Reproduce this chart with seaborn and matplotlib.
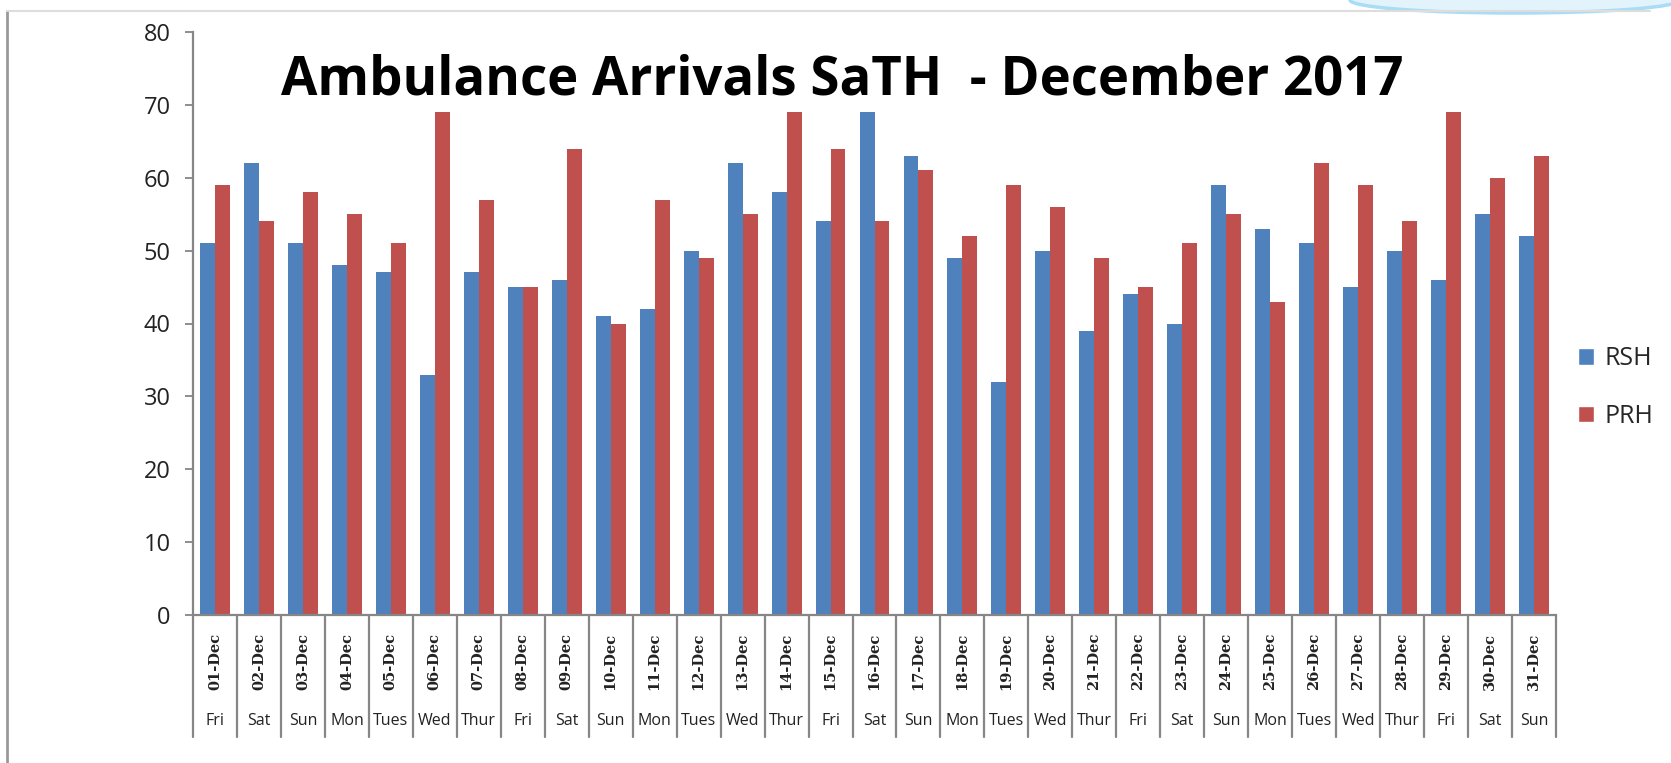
import seaborn as sns
import matplotlib.pyplot as plt
import matplotlib.transforms as mtransforms
from matplotlib.patches import Ellipse, Patch
from matplotlib.lines import Line2D
import pandas as pd

# --- Data ---
dates = [f"{d:02d}-Dec" for d in range(1, 32)]
days = ["Fri", "Sat", "Sun", "Mon", "Tues", "Wed", "Thur",
        "Fri", "Sat", "Sun", "Mon", "Tues", "Wed", "Thur",
        "Fri", "Sat", "Sun", "Mon", "Tues", "Wed", "Thur",
        "Fri", "Sat", "Sun", "Mon", "Tues", "Wed", "Thur",
        "Fri", "Sat", "Sun"]
rsh = [51, 62, 51, 48, 47, 33, 47, 45, 46, 41, 42, 50, 62, 58, 54, 69,
       63, 49, 32, 50, 39, 44, 40, 59, 53, 51, 45, 50, 46, 55, 52]
prh = [59, 54, 58, 55, 51, 69, 57, 45, 64, 40, 57, 49, 55, 69, 64, 54,
       61, 52, 59, 56, 49, 45, 51, 55, 43, 62, 59, 54, 69, 60, 63]
sites = ["RSH", "PRH"]
y_ticks = list(range(0, 81, 10))

# --- Style ---
BLUE = '#4F81BD'
RED = '#C0504D'
AXIS_GREY = '#868686'
sns.set_style("white")
plt.rcParams['font.family'] = ['Open Sans', 'DejaVu Sans']

df = pd.DataFrame({
    'date': dates * 2,
    'count': rsh + prh,
    'site': ['RSH'] * len(rsh) + ['PRH'] * len(prh),
})

fig = plt.figure(figsize=(16.71, 7.63), dpi=100)
ax = fig.add_axes([193 / 1671, 1 - 615 / 763, (1556 - 193) / 1671, (615 - 32) / 763])

sns.barplot(data=df, x='date', y='count', hue='site', hue_order=sites,
            palette=[BLUE, RED], width=0.68, saturation=1, gap=0,
            edgecolor='none', ax=ax, legend=False)

ax.set_xlim(-0.5, len(dates) - 0.5)
ax.set_ylim(0, 80)
ax.set_yticks(y_ticks)
ax.tick_params(axis='y', labelsize=17, length=6, width=1.3, color=AXIS_GREY,
               labelcolor='#222222', direction='out', pad=10, left=True)
ax.set_xlabel("")
ax.set_ylabel("")
for side in ['top', 'right']:
    ax.spines[side].set_visible(False)
for side in ['left', 'bottom']:
    ax.spines[side].set_color(AXIS_GREY)
    ax.spines[side].set_linewidth(1.6)

# Two-level category axis (date rotated + weekday), Excel style
ax.set_xticks(range(len(dates)))
ax.set_xticklabels([])
ax.tick_params(axis='x', length=0)
trans = mtransforms.blended_transform_factory(ax.transData, ax.transAxes)
for i, (d, wd) in enumerate(zip(dates, days)):
    ax.text(i, -0.079, d, rotation=90, ha='center', va='center', transform=trans,
            fontsize=10.5, fontweight='bold', family='DejaVu Serif', color='#222222')
    ax.text(i, -0.181, wd, ha='center', va='center', transform=trans,
            fontsize=11.5, color='#222222')
for i in range(len(dates) + 1):
    ax.plot([i - 0.5, i - 0.5], [0, -0.209], transform=trans, color=AXIS_GREY,
            lw=1.6, clip_on=False)

# Title
fig.text(0.504, 0.894, "Ambulance Arrivals SaTH  - December 2017", ha='center',
         va='center', fontsize=38, fontweight='bold', color='black')

# Legend
handles = [Patch(facecolor=BLUE, label='RSH'), Patch(facecolor=RED, label='PRH')]
fig.legend(handles=handles, loc='center left', bbox_to_anchor=(1578 / 1671, 0.492),
           frameon=False, fontsize=18, handlelength=0.65, handleheight=0.65,
           handletextpad=0.4, labelspacing=1.3, borderpad=0, borderaxespad=0)

# Screenshot frame and the blue shape at the top right
fig.add_artist(Line2D([7 / 1671, 7 / 1671], [0, 1 - 11 / 763], color='#999999', lw=2,
                      transform=fig.transFigure))
fig.add_artist(Line2D([7 / 1671, 1650 / 1671], [1 - 11 / 763, 1 - 11 / 763],
                      color='#DDDDDD', lw=1.5, transform=fig.transFigure))
fig.add_artist(Ellipse((1515 / 1671, 1.0), 330 / 1671, 26 / 763, transform=fig.transFigure,
                       facecolor='#E3F3FC', edgecolor='#A9DCF5', lw=2.5))

plt.savefig('out.png', dpi=100)
plt.close()
